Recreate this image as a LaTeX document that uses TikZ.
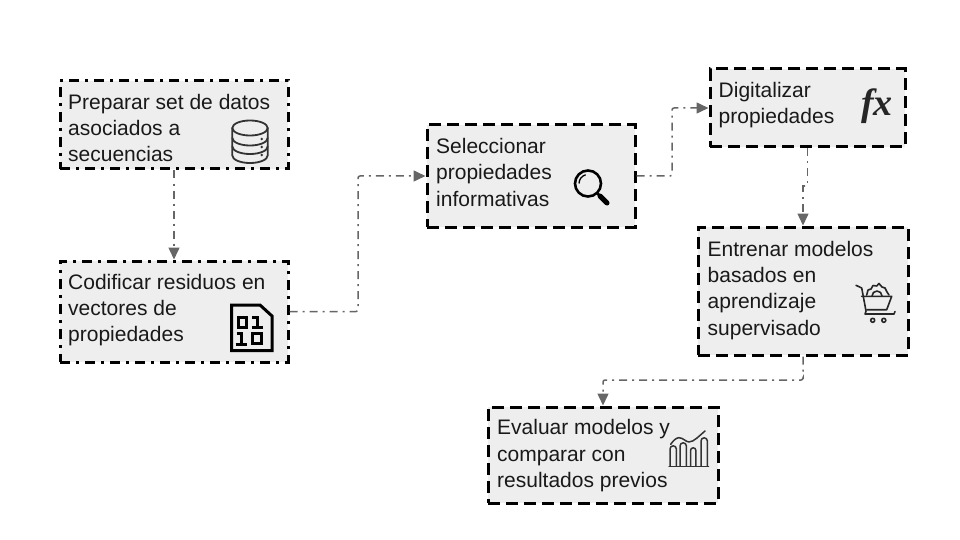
\documentclass[tikz,border=0pt]{standalone}
\usepackage{fontspec}
\setmainfont{Liberation Sans}
\newfontfamily\fxfont{Liberation Serif}
\usetikzlibrary{arrows.meta,calc}
\definecolor{boxfill}{HTML}{EEEEEE}
\definecolor{linkgray}{HTML}{666666}
\definecolor{icondark}{HTML}{333333}
\tikzset{
  x=1pt,y=-1pt,
  stagebox/.style={draw=black,fill=boxfill,line width=3pt,inner sep=0pt},
  dashdotbox/.style={stagebox,dash pattern=on 10pt off 6pt on 3pt off 6pt},
  dashbox/.style={stagebox,dash pattern=on 12pt off 6pt},
  stagetext/.style={inner sep=0pt,anchor=base west,align=left,text=black!90,font=\fontsize{21}{26.2}\selectfont},
  link/.style={draw=linkgray,line width=1.5pt,rounded corners=2pt,dash pattern=on 8pt off 5pt on 2pt off 5pt,-{Triangle[length=12pt,width=11pt]}},
  icon/.style={draw=icondark,line width=1.8pt,fill=none,line cap=round,line join=round},
  digit/.style={draw=black,line width=3pt,line cap=butt,line join=miter},
}
\begin{document}
\begin{tikzpicture}
\useasboundingbox (0,0) rectangle (960,540);
\node[dashdotbox,minimum width=228pt,minimum height=88pt] (prep) at (174,125) {};
\node[dashdotbox,minimum width=228pt,minimum height=101pt] (cod) at (174,311.5) {};
\node[dashbox,minimum width=208pt,minimum height=102pt] (sel) at (531,176) {};
\node[dashbox,minimum width=195pt,minimum height=78pt] (dig) at (807.5,108) {};
\node[dashbox,minimum width=210pt,minimum height=128pt] (ent) at (803,291) {};
\node[dashbox,minimum width=230pt,minimum height=96pt] (eva) at (603,455) {};
\node[stagetext] (prepT) at (68,161.7) {Preparar set de datos\\asociados a\\secuencias};
\node[stagetext] (codT) at (68,341.7) {Codificar residuos en\\vectores de\\propiedades};
\node[stagetext] (selT) at (436,206) {Seleccionar\\propiedades\\informativas};
\node[stagetext] (digT) at (718.5,123.3) {Digitalizar\\propiedades};
\node[stagetext] (entT) at (707.5,335) {Entrenar modelos\\basados en\\aprendizaje\\supervisado};
\node[stagetext] (evaT) at (497,487.3) {Evaluar modelos y\\comparar con\\resultados previos};
\coordinate (bendA) at (358,240);
\coordinate (bendB) at (672,140);
\coordinate (bendC) at (803,380);
\coordinate (bendD) at (805,186);
\draw[link] (prep.south) -- (cod.north);
\draw[link] (cod.east) -| (bendA) |- (sel.west);
\draw[link] (sel.east) -| (bendB) |- (dig.west);
\draw[link,rounded corners=0pt] (dig.south) |- (bendD) -| (ent.north);
\draw[link] (ent.south) |- (bendC) -| (eva.north);
% database icon
\begin{scope}[icon]
\draw (250,128) ellipse[x radius=17.7,y radius=7.5];
\draw (232.3,128) -- (232.3,155.5) arc[x radius=17.7,y radius=7.5,start angle=180,end angle=0] -- (267.7,128);
\draw (232.3,138) arc[x radius=17.7,y radius=7.5,start angle=180,end angle=0];
\draw (232.3,146.5) arc[x radius=17.7,y radius=7.5,start angle=180,end angle=0];
\fill[icondark] (261.7,139) circle (1.3) (261.7,147) circle (1.3) (261.7,155) circle (1.3);
\end{scope}
% binary document icon
\draw[black,line width=3pt,line join=miter] (231.5,305) -- (260,305) -- (272,316) -- (272,350.5) -- (231.5,350.5) -- cycle;
\draw[digit] (238,317.5) rectangle (246,327);
\draw[digit] (252,317.5) -- (257,317.5) -- (257,329) (251.5,327.5) -- (262.5,327.5);
\draw[digit] (236.5,333.5) -- (241.5,333.5) -- (241.5,345) (235.5,344) -- (247,344);
\draw[digit] (252,333) rectangle (261,343.5);
% magnifier icon
\draw[black,line width=2.6pt] (588,183.5) circle (13);
\draw[black,line width=1.3pt] (579,183.5) arc[radius=9,start angle=180,end angle=255];
\draw[black,line width=2.5pt] (597,193) -- (600,196);
\draw[black,line width=5pt,line cap=round] (600,196) -- (607,203);
% fx icon
\node[font=\fxfont\bfseries\itshape\fontsize{38}{38}\selectfont,inner sep=0pt,text=black!85] (fx) at (877,106) {fx};
% cart icon
\begin{scope}[icon,line width=1.6pt,draw=black!85]
\draw (856,285.3) -- (861.7,288) -- (866,311) -- (865,314) -- (894,314) (894,314) -- (895,311.5);
\draw (861.7,296.3) -- (891.7,296.3) -- (886.7,309.7) -- (867,309.7);
\draw (866.7,295) -- (868,290) -- (871,289) -- (873,285.5) -- (876.7,286) -- (879,283.5) -- (882,287) -- (885,288) -- (887,292) -- (889,295);
\draw (872,296) arc[radius=5,start angle=180,end angle=360];
\draw (872.7,320.3) circle (2) (883.8,320.3) circle (2);
\end{scope}
% chart icon
\begin{scope}[icon,line width=1.5pt]
\draw (669,466.3) -- (708.5,466.3);
\draw (670,466) -- (670,449) arc[radius=3.2,start angle=180,end angle=360] -- (676.4,466);
\draw (680,466) -- (680,446) arc[radius=3.2,start angle=180,end angle=360] -- (686.4,466);
\draw (690.5,466) -- (690.5,450.5) arc[radius=2.7,start angle=180,end angle=360] -- (695.9,466);
\draw (701,466) -- (701,441) arc[radius=3.2,start angle=180,end angle=360] -- (707.4,466);
\draw (670.7,444.3) .. controls (673,441) and (676,437.7) .. (679,437.7) .. controls (683,437.7) and (686,442) .. (689,442) .. controls (694,442) and (700,435) .. (705,431);
\end{scope}
\end{tikzpicture}
\end{document}
